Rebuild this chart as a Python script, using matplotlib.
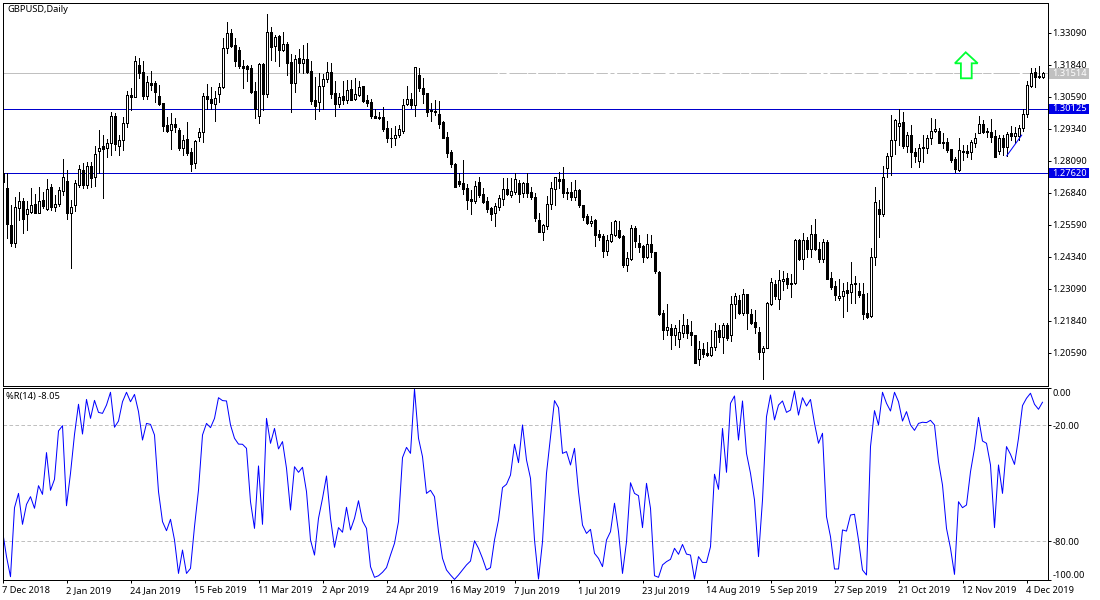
import matplotlib
matplotlib.use('Agg')
import matplotlib.pyplot as plt
from matplotlib.patches import Polygon, Rectangle
from matplotlib.transforms import ScaledTranslation

plt.rcParams['font.family'] = ['Noto Sans', 'DejaVu Sans']
plt.rcParams['lines.scale_dashes'] = False

# prices in 1/10000 of a dollar, one entry per daily bar
opens = [12761,12702,12559,12487,12624,12653,12602,12611,12641,12607,
    12657,12620,12708,12631,12641,12691,12730,12605,12636,12714,
    12773,12714,12790,12748,12849,12866,12859,12878,12984,12869,
    12890,12956,13068,13060,13183,13155,13064,13112,13114,13062,
    13034,12948,12929,12954,12930,12859,12894,12843,12800,12902,
    12921,13062,13050,13033,13069,13097,13249,13308,13262,13243,
    13181,13180,13171,13082,12984,13188,13071,13312,13260,13297,
    13243,13265,13195,13112,13210,13193,13206,13161,13047,13038,
    13103,13131,13157,13073,13033,13062,13049,13090,13051,13067,
    13101,13046,13038,12984,12981,12980,12937,12900,12898,12912,
    12928,13033,13050,13029,13144,13093,13073,13008,13004,12991,
    12960,12902,12844,12796,12730,12722,12702,12659,12654,12726,
    12679,12653,12624,12607,12628,12662,12698,12678,12689,12723,
    12685,12722,12687,12670,12579,12533,12556,12642,12698,12737,
    12737,12687,12687,12670,12695,12637,12594,12568,12579,12524,
    12516,12459,12498,12520,12540,12516,12404,12428,12547,12487,
    12477,12435,12485,12454,12376,12214,12149,12157,12129,12114,
    12138,12168,12140,12129,12037,12073,12058,12053,12084,12148,
    12123,12168,12128,12249,12266,12214,12288,12211,12179,12140,
    12064,12080,12249,12327,12270,12342,12351,12331,12331,12500,
    12425,12500,12465,12524,12464,12426,12493,12351,12321,12273,
    12283,12305,12299,12333,12301,12290,12214,12202,12433,12622,
    12603,12780,12827,12890,12947,12961,12869,12909,12846,12810,
    12862,12861,12900,12925,12926,12882,12882,12855,12817,12773,
    12849,12847,12846,12881,12920,12952,12925,12921,12905,12849,
    12898,12862,12920,12908,12908,12939,12991,13103,13155,13141,13138]
highs = [12780,12761,12637,12670,12687,12663,12653,12705,12679,12709,
    12689,12738,12718,12676,12709,12817,12774,12657,12735,12793,
    12800,12804,12804,12869,12930,12911,12894,13002,12995,12911,
    12982,13084,13093,13219,13210,13200,13141,13161,13122,13106,
    13034,12982,12998,12976,12937,12911,12963,12859,12891,12937,
    13073,13110,13099,13084,13112,13291,13351,13323,13288,13253,
    13204,13184,13184,13119,13193,13191,13383,13331,13301,13301,
    13312,13273,13227,13223,13245,13262,13271,13200,13136,13152,
    13149,13196,13191,13122,13073,13122,13125,13125,13132,13122,
    13102,13067,13051,13011,13002,13019,12965,12937,12946,12950,
    13051,13102,13073,13175,13171,13132,13076,13034,13047,13043,
    12967,12922,12852,12800,12761,12813,12718,12696,12731,12745,
    12702,12670,12628,12644,12676,12741,12741,12741,12761,12735,
    12728,12761,12706,12685,12605,12563,12672,12725,12745,12765,
    12784,12705,12725,12735,12698,12637,12601,12594,12583,12540,
    12524,12520,12569,12579,12576,12520,12455,12559,12555,12520,
    12481,12524,12520,12455,12381,12227,12250,12172,12168,12188,
    12211,12192,12184,12129,12106,12097,12103,12149,12178,12168,
    12178,12175,12282,12292,12286,12308,12288,12230,12227,12162,
    12087,12257,12351,12344,12383,12379,12370,12366,12504,12504,
    12529,12511,12559,12583,12494,12504,12500,12377,12342,12347,
    12331,12338,12416,12360,12331,12331,12292,12468,12709,12657,
    12790,12839,12989,12974,13011,13002,12924,12950,12859,12876,
    12911,12911,12976,12972,12937,12917,12897,12855,12826,12897,
    12871,12871,12891,12917,12985,12969,12937,12972,12930,12911,
    12911,12924,12946,12941,12950,13011,13123,13171,13171,13180,13158]
lows = [12728,12507,12478,12474,12579,12526,12540,12605,12605,12605,
    12624,12618,12618,12615,12633,12676,12581,12392,12615,12706,
    12702,12705,12709,12711,12761,12666,12823,12833,12852,12833,
    12852,12943,13008,13058,13132,13051,13051,13086,13041,13028,
    12926,12924,12855,12924,12852,12833,12833,12771,12780,12889,
    12885,13012,13012,12967,13041,13093,13232,13253,13181,13171,
    13096,13123,13076,12976,12959,13008,13060,13204,13200,13181,
    13240,13145,13002,13079,13158,13154,13152,13032,12974,13006,
    13011,13119,13056,12985,13021,13030,13037,13047,13047,13063,
    13041,13025,12978,12976,12973,12926,12885,12865,12872,12904,
    12920,13028,13015,12985,13084,13037,12985,12967,12989,12939,
    12898,12826,12787,12709,12711,12680,12620,12602,12646,12670,
    12646,12610,12579,12555,12618,12637,12676,12670,12680,12650,
    12670,12667,12661,12576,12530,12500,12542,12621,12637,12702,
    12670,12661,12657,12657,12631,12579,12563,12555,12478,12500,
    12435,12442,12494,12516,12507,12394,12381,12422,12474,12455,
    12416,12429,12435,12373,12207,12114,12129,12075,12090,12084,
    12120,12119,12090,12021,12012,12045,12047,12047,12071,12101,
    12060,12110,12107,12194,12211,12207,12153,12172,12138,12034,
    11956,12077,12247,12269,12232,12305,12312,12279,12327,12422,
    12387,12435,12435,12461,12413,12413,12348,12308,12266,12266,
    12201,12224,12253,12253,12279,12193,12197,12201,12403,12513,
    12595,12748,12754,12836,12872,12859,12843,12787,12806,12787,
    12806,12842,12874,12924,12878,12859,12846,12806,12767,12770,
    12813,12823,12816,12865,12917,12917,12902,12885,12823,12836,
    12833,12829,12891,12878,12891,12928,12980,13099,13099,13132,13132]
closes = [12728,12563,12487,12628,12653,12581,12620,12636,12607,12654,
    12633,12698,12631,12640,12696,12745,12605,12628,12722,12777,
    12714,12790,12744,12835,12859,12857,12878,12984,12874,12890,
    12956,13066,13060,13198,13154,13064,13116,13107,13080,13033,
    12947,12926,12952,12941,12859,12890,12842,12796,12886,12921,
    13062,13050,13037,13054,13097,13249,13308,13260,13201,13180,
    13174,13167,13080,13011,13188,13072,13312,13256,13292,13243,
    13265,13193,13112,13209,13193,13206,13155,13043,13025,13101,
    13128,13155,13071,13033,13058,13049,13085,13049,13069,13097,
    13043,13036,12985,12978,12978,12934,12900,12898,12912,12933,
    13029,13050,13028,13175,13096,13072,13002,13006,13002,12955,
    12900,12842,12796,12709,12719,12701,12657,12654,12710,12678,
    12649,12622,12602,12632,12663,12698,12680,12693,12737,12680,
    12722,12685,12670,12585,12532,12558,12640,12702,12745,12732,
    12685,12683,12668,12695,12637,12592,12568,12576,12520,12514,
    12459,12500,12523,12575,12512,12403,12429,12546,12498,12473,
    12435,12484,12452,12381,12211,12149,12159,12129,12155,12140,
    12167,12137,12129,12021,12073,12055,12051,12081,12144,12123,
    12167,12119,12250,12282,12217,12288,12214,12176,12162,12064,
    12080,12253,12335,12282,12343,12349,12327,12327,12500,12425,
    12499,12465,12524,12465,12426,12493,12348,12318,12286,12283,
    12301,12295,12329,12327,12286,12211,12201,12433,12648,12602,
    12748,12827,12890,12969,12956,12869,12909,12846,12830,12859,
    12859,12898,12925,12933,12879,12878,12853,12813,12776,12851,
    12843,12842,12882,12898,12952,12922,12922,12903,12823,12898,
    12862,12916,12908,12917,12937,12991,13105,13154,13136,13136,13154]

# williams %R, same bars
wpr = [-74.5,-87.9,-98.3,-62.6,-55.2,-71.2,-60.9,-56.9,-62.9,-51.2,
    -55.7,-34.1,-53.6,-47.9,-22.9,-20.2,-61.6,-44.8,-24.7,-9.1,
    -24.5,-6.6,-16.4,-7.1,-13.3,-13.8,-9.5,-2.9,-21.0,-17.8,
    -7.8,-2.9,-7.8,-4.0,-12.9,-27.6,-19.0,-19.5,-25.0,-54.3,
    -69.8,-74.5,-68.6,-79.3,-96.6,-84.5,-96.6,-94.0,-72.4,-53.4,
    -25.0,-19.0,-21.2,-16.4,-5.7,-7.2,-7.4,-19.8,-26.7,-29.7,
    -29.8,-31.9,-59.5,-73.3,-41.0,-71.2,-16.4,-29.3,-21.6,-32.2,
    -28.4,-42.2,-63.8,-41.4,-44.3,-41.7,-54.3,-79.3,-87.1,-68.1,
    -57.8,-46.2,-68.1,-83.1,-72.9,-75.3,-62.4,-74.1,-68.1,-59.0,
    -69.5,-73.3,-93.1,-98.6,-97.8,-96.0,-93.6,-87.1,-81.0,-69.8,
    -36.7,-31.4,-34.5,-1.2,-26.7,-36.2,-55.2,-53.6,-56.9,-75.0,
    -88.8,-94.8,-97.4,-99.7,-97.4,-94.8,-92.2,-90.2,-79.7,-83.6,
    -88.8,-94.8,-93.6,-79.3,-69.0,-52.2,-50.5,-45.7,-29.8,-39.3,
    -19.8,-37.9,-47.4,-79.3,-99.5,-80.2,-44.8,-25.9,-7.2,-10.9,
    -34.5,-33.6,-40.5,-31.9,-54.3,-71.6,-75.9,-73.8,-86.2,-88.8,
    -93.1,-79.3,-75.0,-60.3,-75.0,-96.6,-80.2,-49.7,-55.2,-56.4,
    -72.9,-50.0,-62.9,-97.8,-98.6,-92.2,-90.5,-89.3,-83.6,-86.7,
    -81.6,-86.6,-87.1,-99.5,-87.9,-90.9,-90.9,-82.8,-45.3,-53.1,
    -21.6,-44.3,-8.6,-4.8,-27.6,-7.4,-34.5,-44.8,-58.6,-87.9,
    -58.6,-15.5,-4.3,-17.2,-9.5,-7.4,-13.3,-12.1,-2.2,-14.7,
    -5.7,-10.0,-6.6,-19.0,-29.3,-24.1,-67.2,-77.6,-94.3,-94.3,
    -74.1,-74.7,-66.4,-66.0,-79.3,-94.8,-97.4,-31.0,-12.4,-19.8,
    -2.9,-8.6,-12.6,-2.9,-7.8,-17.8,-12.9,-19.8,-22.6,-19.0,
    -18.4,-18.6,-17.4,-19.8,-38.8,-50.9,-73.3,-83.6,-97.1,-59.5,
    -62.6,-61.2,-44.0,-31.9,-15.9,-28.1,-29.3,-40.5,-72.9,-40.5,
    -55.2,-31.0,-35.0,-40.2,-26.7,-9.8,-6.0,-3.4,-9.1,-11.7,-8.05]

date_labels = ['7 Dec 2018','2 Jan 2019','24 Jan 2019','15 Feb 2019','11 Mar 2019','2 Apr 2019',
    '24 Apr 2019','16 May 2019','7 Jun 2019','1 Jul 2019','23 Jul 2019','14 Aug 2019',
    '5 Sep 2019','27 Sep 2019','21 Oct 2019','12 Nov 2019','4 Dec 2019']
date_every = 16
price_ticks = [1.33090,1.31840,1.30590,1.29340,1.28090,1.26840,1.25590,1.24340,1.23090,1.21840,1.20590]
last_price = 1.31514
levels = [1.30125, 1.27620]
wpr_levels = [-20, -80]

trend_k = [251.05, 254.8]
trend_price = [1.2829, 1.2910]
arrow_k = [240.8, 243.8, 242.3, 242.3, 239.6, 239.6, 238.1]
arrow_price = [1.32336, 1.31906, 1.31906, 1.31320, 1.31320, 1.31906, 1.31906]

# broken stretch of the last price line, on/off in 1/3 px
last_dashes = [22,5,21,9,53,3,24,6,54,3,25,6,79,8,34,8,12,8,40,6,19,8,27,9,36,12,
    15,8,50,7,13,9,54,15,19,8,60,5,65,11,52,11,39,12,13,5,14,8,26,9,900,1]
dash_start = 121.875

assert len(opens) == len(highs) == len(lows) == len(closes) == len(wpr) == 261

BLUE = '#0000CD'
SILVER = '#C0C0C0'
PX = 0.72  # one pixel in points at dpi 100
W, H = 1100, 600
FONT = 6.7

fig = plt.figure(figsize=(11, 6), dpi=100, facecolor='white')
ax = fig.add_axes([2.5 / W, 1 - 385.5 / H, 1045 / W, 383 / H])
ax2 = fig.add_axes([2.5 / W, 1 - 579.5 / H, 1045 / W, 192 / H])

bars = range(len(opens))
o = [v / 1e4 for v in opens]
h = [v / 1e4 for v in highs]
l = [v / 1e4 for v in lows]
c = [v / 1e4 for v in closes]

ax.vlines(bars, l, h, color='black', lw=PX, antialiased=False, zorder=3)
ax.bar(bars, [abs(a - b) for a, b in zip(o, c)], bottom=[min(a, b) for a, b in zip(o, c)], width=0.5,
    color=['white' if b >= a else 'black' for a, b in zip(o, c)],
    edgecolor='black', linewidth=PX, antialiased=False, zorder=4)

# levels and last price
for level in levels:
    ax.axhline(level, color=BLUE, lw=PX, zorder=2)
ax.plot([0, dash_start], [last_price, last_price], color=SILVER, lw=PX, zorder=1)
ax.plot([dash_start, 261.25], [last_price, last_price], color=SILVER, lw=PX, zorder=1,
    linestyle=(0, [d * PX / 3 for d in last_dashes]), dash_capstyle='butt')
ax.plot(trend_k, trend_price, color='#0000FF', lw=PX, zorder=5)
ax.add_patch(Polygon(list(zip(arrow_k, arrow_price)), closed=True, facecolor='white', edgecolor='#00FF33', lw=1.3, zorder=6))

ax.set_xlim(0, 261.25)
ax.set_ylim(1.19320, 1.34281)
ax.set_xticks([])
ax.yaxis.tick_right()
ax.set_yticks(price_ticks, [f'{p:.5f}' for p in price_ticks])
ax.tick_params(axis='y', length=2.2, width=PX, pad=1.2, labelsize=FONT)

# price tags on the axis
trans = ax.get_yaxis_transform()
for price, color in [(last_price, SILVER), (levels[0], '#0000E6'), (levels[1], '#0000E6')]:
    ax.add_patch(Rectangle((1.0014, price - 0.0021), 40 / 1045, 0.0042, transform=trans, facecolor=color,
        edgecolor='none', clip_on=False, zorder=10))
    ax.text(1.0048, price, f'{price:.5f}', transform=trans, color='white', fontsize=FONT, va='center', zorder=11)

# %R panel
ax2.plot(bars, wpr, color='#0000FF', lw=PX)
for level in wpr_levels:
    ax2.axhline(level, color=SILVER, lw=PX, linestyle=(0, (2.6, 1.7)), zorder=1)
ax2.set_xlim(0, 261.25)
wpr_top, wpr_bottom = -0.43, -99.74
ax2.set_ylim(wpr_bottom, wpr_top)
ax2.yaxis.tick_right()
ax2.set_yticks([wpr_top, -20, -80, wpr_bottom], ['0.00', '-20.00', '-80.00', '-100.00'])
ax2.tick_params(axis='y', length=2.2, width=PX, pad=1.2, labelsize=FONT)
labels = ax2.get_yticklabels()
labels[0].set_va('top')
labels[0].set_transform(labels[0].get_transform() + ScaledTranslation(0, -0.02, fig.dpi_scale_trans))
labels[3].set_va('bottom')
ax2.set_xticks(list(range(0, len(date_labels) * date_every, date_every)), date_labels, ha='left')
ax2.tick_params(axis='x', length=2.2, width=PX, pad=2.5, labelsize=FONT)

for a in (ax, ax2):
    for s in a.spines.values():
        s.set_linewidth(PX)
        s.set_color('black')

fig.text(7 / W, 1 - 10 / H, 'GBPUSD,Daily', fontsize=FONT, va='center')
fig.text(6 / W, 1 - 397 / H, '%R(14) -8.05', fontsize=FONT, va='center')

fig.savefig('out.png', dpi=100)
